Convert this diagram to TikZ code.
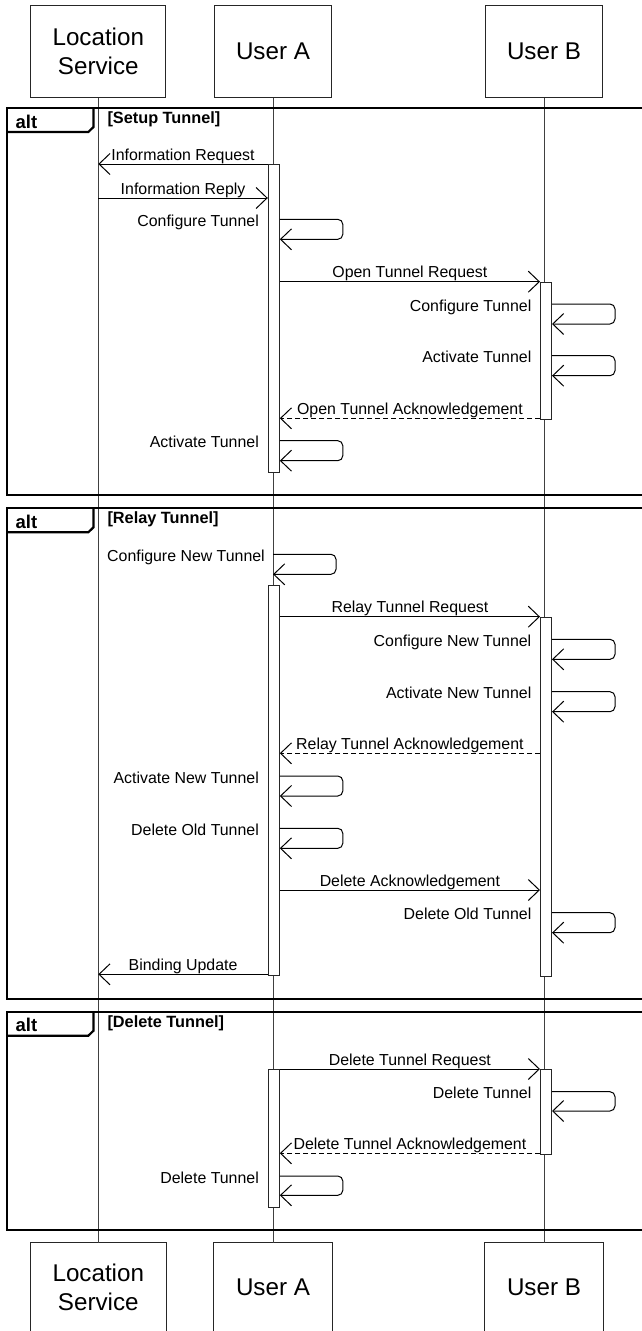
\documentclass[tikz,border=0pt]{standalone}
\usepackage{fontspec}
\setmainfont{Liberation Sans}
\usetikzlibrary{arrows.meta}
\newcommand{\selfmsg}[6]{% #1 name, #2 start anchor, #3 top y, #4 bottom y, #5 label x, #6 text
  \coordinate (#1s) at (#2 |- 0,#3);
  \coordinate (#1e) at (#2 |- 0,#4);
  \draw[msg, rounded corners=5pt] (#1s) -- ++(63,0) |- (#1e);
  \node[lbl, anchor=base east] (#1l) at (#5,#3+7.2) {#6};
}
\newcommand{\altframe}[6]{% #1 name, #2 top, #3 bottom, #4 guard text
  \draw[frame] (642,#2) -- (7,#2) -- (7,#3) -- (642,#3);
  \draw[frame] (7,#2+24) -- (88.3,#2+24) -- (93.5,#2+19) -- (93.5,#2);
  \node[alttxt, anchor=base west] (#1a) at (15.5,#2+20.2) {alt};
  \node[guardtxt, anchor=base west] (#1g) at (107.3,#2+15.6) {#4};
}
\begin{document}
\begin{tikzpicture}[x=1pt,y=-1pt,
  actor/.style={draw=black!85, line width=1pt, fill=white, align=center, inner sep=0pt,
    font=\fontsize{24.2}{28.7}\selectfont},
  boxline/.style={draw=black!85, line width=1pt},
  life/.style={draw=black!75, line width=1pt},
  frame/.style={draw=black, line width=2.2pt},
  alttxt/.style={inner sep=0pt, font=\bfseries\fontsize{18.5}{22}\selectfont},
  guardtxt/.style={inner sep=0pt, font=\bfseries\fontsize{16.3}{19}\selectfont},
  bar/.style={draw=black!85, line width=1pt, fill=white, minimum width=11pt, inner sep=0pt, anchor=north},
  msg/.style={draw=black, line width=1pt, -{Straight Barb[length=11pt,width=21pt]}},
  reply/.style={msg, dash pattern=on 5pt off 3pt},
  lbl/.style={inner sep=0pt, font=\fontsize{15.9}{19}\selectfont},
  mlbl/.style={lbl, anchor=base, yshift=4pt}
]
\useasboundingbox (0,0) rectangle (642,1331);
\fill[white] (0,0) rectangle (642,1331);

% actors (top)
\node[actor, minimum width=135.3pt, minimum height=92pt] (lsTop) at (98.3,51) {Location\\Service};
\node[actor, minimum width=117.5pt, minimum height=92pt] (uaTop) at (273,51) {User A};
\node[actor, minimum width=117.3pt, minimum height=92pt] (ubTop) at (544,51) {User B};
% actors (bottom, cut by the page edge)
\node[actor, draw=none, minimum width=135.3pt, minimum height=88pt] (lsBot) at (98.3,1287) {Location\\Service};
\node[actor, draw=none, minimum width=117.5pt, minimum height=88pt] (uaBot) at (273,1287) {User A};
\node[actor, draw=none, minimum width=117.3pt, minimum height=88pt] (ubBot) at (544,1287) {User B};
\foreach \n in {lsBot,uaBot,ubBot}
  \draw[boxline] (\n.south west) -- (\n.north west) -- (\n.north east) -- (\n.south east);

% lifelines
\draw[life] (lsTop.south) -- (lsBot.north);
\draw[life] (uaTop.south) -- (uaBot.north);
\draw[life] (ubTop.south) -- (ubBot.north);

% frames
\altframe{f1}{108}{495}{[Setup Tunnel]}{}{}
\altframe{f2}{508.3}{999.3}{[Relay Tunnel]}{}{}
\altframe{f3}{1011.7}{1230}{[Delete Tunnel]}{}{}

% activation bars
\node[bar, minimum height=307.7pt] (a1) at (273.8,164) {};
\node[bar, minimum height=137.6pt] (b1) at (546,281.7) {};
\node[bar, minimum height=390pt] (a2) at (273.8,585) {};
\node[bar, minimum height=358.8pt] (b2) at (546,616.7) {};
\node[bar, minimum height=137.7pt] (a3) at (273.8,1069) {};
\node[bar, minimum height=85.3pt] (b3) at (546,1069) {};

% ---- Setup Tunnel
\draw[msg] (a1.west |- 0,164) -- node[mlbl] (m1) {Information Request} (lsTop.south |- 0,164);
\draw[msg] (lsTop.south |- 0,198) -- node[mlbl] (m2) {Information Reply} (a1.west |- 0,198);
\selfmsg{s3}{a1.east}{219.3}{239.3}{259}{Configure Tunnel}
\draw[msg] (a1.east |- 0,281.7) -- node[mlbl] (m4) {Open Tunnel Request} (b1.west |- 0,281.7);
\selfmsg{s5}{b1.east}{304}{324}{531.5}{Configure Tunnel}
\selfmsg{s6}{b1.east}{355.7}{375.7}{531.5}{Activate Tunnel}
\draw[reply] (b1.west |- 0,418.3) -- node[mlbl] (m7) {Open Tunnel Acknowledgement} (a1.east |- 0,418.3);
\selfmsg{s8}{a1.east}{440.7}{460.7}{259}{Activate Tunnel}

% ---- Relay Tunnel
\selfmsg{s9}{uaTop.south}{554.3}{574.3}{265}{Configure New Tunnel}
\draw[msg] (a2.east |- 0,616.7) -- node[mlbl] (m10) {Relay Tunnel Request} (b2.west |- 0,616.7);
\selfmsg{s11}{b2.east}{639.3}{659.3}{531.5}{Configure New Tunnel}
\selfmsg{s12}{b2.east}{691.7}{711.7}{531.5}{Activate New Tunnel}
\draw[reply] (b2.west |- 0,753.3) -- node[mlbl] (m13) {Relay Tunnel Acknowledgement} (a2.east |- 0,753.3);
\selfmsg{s14}{a2.east}{776}{796}{259}{Activate New Tunnel}
\selfmsg{s15}{a2.east}{828.3}{848.3}{259}{Delete Old Tunnel}
\draw[msg] (a2.east |- 0,890) -- node[mlbl] (m16) {Delete Acknowledgement} (b2.west |- 0,890);
\selfmsg{s17}{b2.east}{912.7}{932.7}{531.5}{Delete Old Tunnel}
\draw[msg] (a2.west |- 0,974.3) -- node[mlbl] (m18) {Binding Update} (lsTop.south |- 0,974.3);

% ---- Delete Tunnel
\draw[msg] (a3.east |- 0,1069) -- node[mlbl] (m19) {Delete Tunnel Request} (b3.west |- 0,1069);
\selfmsg{s20}{b3.east}{1091.7}{1111}{531.5}{Delete Tunnel}
\draw[reply] (b3.west |- 0,1153.3) -- node[mlbl] (m21) {Delete Tunnel Acknowledgement} (a3.east |- 0,1153.3);
\selfmsg{s22}{a3.east}{1176}{1195.3}{259}{Delete Tunnel}
\end{tikzpicture}
\end{document}
